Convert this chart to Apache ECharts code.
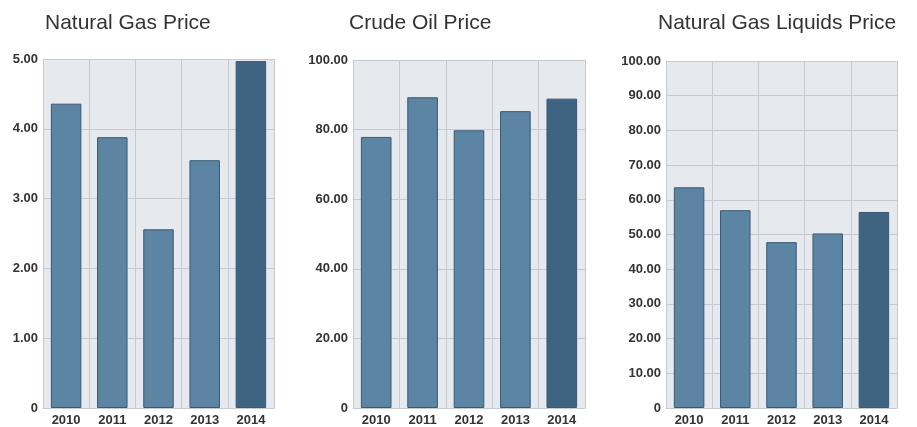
<!DOCTYPE html>
<html>
<head>
<meta charset="utf-8">
<script src="https://cdn.jsdelivr.net/npm/echarts@6/dist/echarts.min.js"></script>
<style>
html,body{margin:0;padding:0;background:#fff;}
#c{width:917px;height:427px;}
</style>
</head>
<body>
<div id="c"></div>
<script>
const years = ['2010', '2011', '2012', '2013', '2014'];
const titles = ['Natural Gas Price', 'Crude Oil Price', 'Natural Gas Liquids Price'];
const gasPrice = [4.36, 3.88, 2.56, 3.55, 4.97];
const oilPrice = [77.9, 89.3, 79.8, 85.3, 88.9];
const nglPrice = [63.6, 57.0, 47.8, 50.3, 56.5];
const yMax = [5, 100, 100];
const yInterval = [1, 20, 10];

const seriesData = [gasPrice, oilPrice, nglPrice];
const grids = [
  {left: 43, top: 59, width: 231, height: 353},
  {left: 353, top: 60, width: 232, height: 352},
  {left: 666, top: 61, width: 231, height: 353}
];
const titlePos = [{left: 40, top: 8}, {left: 344, top: 8}, {left: 653, top: 8}];

const normalColor = '#5c84a3';
const lastColor = '#3f6481';
const gridColor = '#c6cad0';

const option = {
  animation: false,
  backgroundColor: '#ffffff',
  title: titles.map((t, i) => ({
    text: t, left: titlePos[i].left, top: titlePos[i].top,
    textStyle: {fontFamily: 'Liberation Sans, Arial, sans-serif', fontSize: 21, fontWeight: 'normal', color: '#333333'}
  })),
  grid: grids.map(g => Object.assign({backgroundColor: '#e6e9ee', show: true, borderWidth: 0}, g)),
  xAxis: grids.map((g, i) => ({
    type: 'category', gridIndex: i, data: years, boundaryGap: true,
    axisLine: {show: true, lineStyle: {color: gridColor}},
    axisTick: {show: false},
    splitLine: {show: true, lineStyle: {color: gridColor, width: 1}},
    axisLabel: {fontFamily: 'Liberation Sans, Arial, sans-serif', fontSize: 13, fontWeight: 'bold', color: '#333333', margin: 6, interval: 0}
  })),
  yAxis: grids.map((g, i) => ({
    type: 'value', gridIndex: i, min: 0, max: yMax[i], interval: yInterval[i],
    axisLine: {show: false}, axisTick: {show: false},
    splitLine: {show: true, lineStyle: {color: gridColor, width: 1}},
    axisLabel: {
      fontFamily: 'Liberation Sans, Arial, sans-serif', fontSize: 13, fontWeight: 'bold', color: '#333333', margin: 5,
      formatter: v => v === 0 ? '0' : v.toFixed(2)
    }
  })),
  series: seriesData.map((d, i) => ({
    type: 'bar', xAxisIndex: i, yAxisIndex: i, barWidth: '66%',
    data: d.map((v, j) => ({
      value: v,
      itemStyle: {color: j === d.length - 1 ? lastColor : normalColor, borderColor: '#3a5872', borderWidth: 1}
    }))
  }))
};

const chart = echarts.init(document.getElementById('c'), null, {renderer: 'canvas'});
chart.setOption(option);
</script>
</body>
</html>
